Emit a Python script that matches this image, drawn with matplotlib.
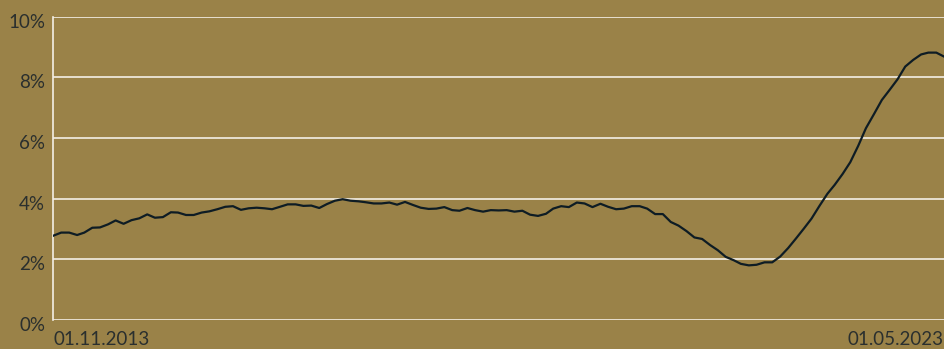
import matplotlib
matplotlib.use("Agg")
import matplotlib.pyplot as plt
import matplotlib.transforms as mtransforms
import pandas as pd

# monthly values, percent
start = "2013-11-01"
rate = [2.78, 2.88, 2.88, 2.80, 2.88, 3.04, 3.05, 3.15, 3.28, 3.17,
        3.29, 3.35, 3.48, 3.37, 3.39, 3.55, 3.54, 3.46, 3.46, 3.54,
        3.58, 3.65, 3.73, 3.75, 3.63, 3.68, 3.70, 3.68, 3.65, 3.73,
        3.81, 3.81, 3.76, 3.77, 3.69, 3.82, 3.93, 3.98, 3.93, 3.91,
        3.88, 3.84, 3.84, 3.87, 3.80, 3.89, 3.79, 3.70, 3.66, 3.67,
        3.72, 3.62, 3.60, 3.69, 3.62, 3.57, 3.62, 3.61, 3.62, 3.57,
        3.60, 3.47, 3.43, 3.50, 3.67, 3.75, 3.72, 3.87, 3.84, 3.72,
        3.83, 3.73, 3.65, 3.67, 3.75, 3.75, 3.67, 3.49, 3.49, 3.23,
        3.11, 2.93, 2.72, 2.67, 2.47, 2.30, 2.08, 1.97, 1.85, 1.80,
        1.82, 1.90, 1.90, 2.09, 2.37, 2.68, 3.01, 3.34, 3.76, 4.16,
        4.45, 4.81, 5.20, 5.74, 6.32, 6.78, 7.25, 7.58, 7.93, 8.35,
        8.57, 8.75, 8.81, 8.81, 8.68]
y_ticks = [0, 2, 4, 6, 8, 10]
y_labels = ["0%", "2%", "4%", "6%", "8%", "10%"]
x_labels = ["01.11.2013", "01.05.2023"]

dates = pd.date_range(start, periods=len(rate), freq="MS")

bg = "#9a8248"
txt = "#2a2f2e"
grid = "#f3efe6"

fig = plt.figure(figsize=(9.45, 3.49), dpi=100, facecolor=bg)
ax = fig.add_axes([53.5 / 945, 1 - 320 / 349, (944 - 53.5) / 945, (320 - 16.5) / 349])
ax.set_facecolor(bg)

ax.plot(dates, rate, color="#0e1c24", lw=1.6, zorder=3)

ax.set_ylim(0, 10)
ax.set_xlim(dates[0], dates[-1])
ax.set_yticks(y_ticks)
ax.set_yticklabels(y_labels)
for y in y_ticks:
    ax.axhline(y, color=grid, lw=1.2, zorder=1)

ax.set_xticks([dates[0], dates[-1]])
xl = ax.set_xticklabels(x_labels)
xl[0].set_ha("left")
xl[1].set_ha("right")

for s in ["top", "right", "bottom"]:
    ax.spines[s].set_visible(False)
ax.spines["left"].set_color(grid)
ax.spines["left"].set_linewidth(1.2)

ax.tick_params(axis="both", length=0, labelsize=13.5, labelcolor=txt)
ax.tick_params(axis="y", pad=6)
ax.tick_params(axis="x", pad=8)

# y labels sit a little below their gridlines
shift = mtransforms.ScaledTranslation(0, -4 / 100, fig.dpi_scale_trans)
for t in ax.get_yticklabels():
    t.set_transform(t.get_transform() + shift)
for t in ax.get_xticklabels() + ax.get_yticklabels():
    t.set_family("Lato")

fig.savefig("out.png", dpi=100, facecolor=bg)
